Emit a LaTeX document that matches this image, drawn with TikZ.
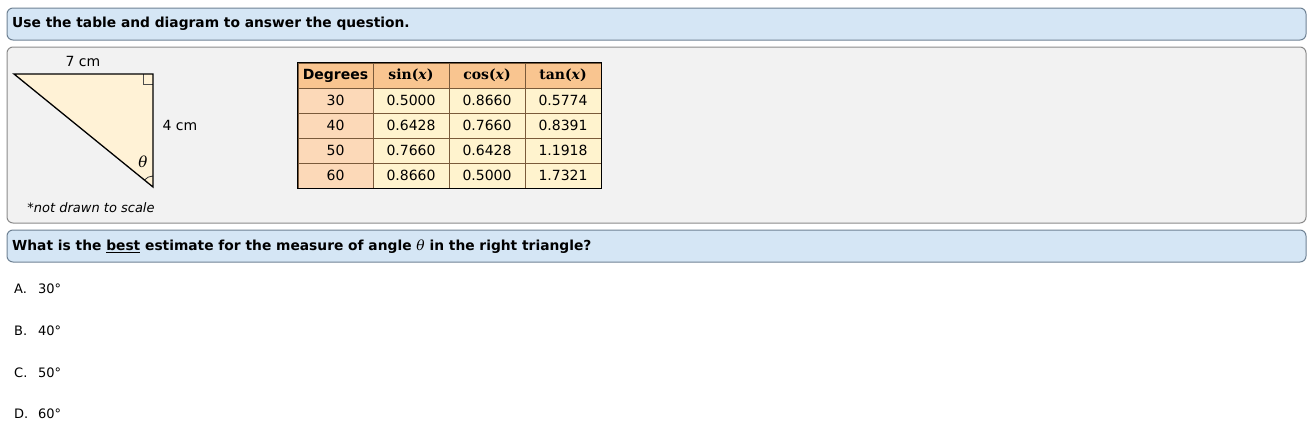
\documentclass[tikz,border=0pt]{standalone}
\usepackage{fontspec}
\setmainfont{DejaVu Sans}
\newfontfamily\trigfont{DejaVu Serif}

\definecolor{bannerblue}{HTML}{D5E6F5}
\definecolor{bannerline}{HTML}{6F8294}
\definecolor{panelgray}{HTML}{F2F2F2}
\definecolor{panelline}{HTML}{8A8A8A}
\definecolor{trifill}{HTML}{FFF2D6}
\definecolor{headorange}{HTML}{F9C590}
\definecolor{degpeach}{HTML}{FCD9B8}
\definecolor{cellyellow}{HTML}{FFF3CE}
\definecolor{tabline}{HTML}{7A5A3A}

\newcommand{\thetaglyph}{{\trigfont\itshape\mdseries θ}}

\tikzset{
	banner/.style={draw=bannerline,fill=bannerblue,rounded corners=6pt,line width=1pt},
	panel/.style={draw=panelline,fill=panelgray,rounded corners=6pt,line width=1pt},
	txt/.style={inner sep=0pt,font=\fontsize{14}{16}\selectfont},
	headtxt/.style={inner sep=0pt,font=\fontsize{13.8}{16}\selectfont\bfseries},
	cell/.style={draw=tabline,line width=0.8pt,minimum height=25pt,inner sep=0pt,font=\fontsize{14}{16}\selectfont},
	trigtxt/.style={font=\fontsize{14}{16}\selectfont\trigfont\bfseries}
}

\begin{document}
\begin{tikzpicture}[x=1pt,y=-1pt]
	\useasboundingbox (0,0) rectangle (1310,437);
	%BANNERS AND PANEL
	\draw[banner] (7,8) rectangle (1306,40);
	\draw[panel] (7,47) rectangle (1306,223);
	\draw[banner] (7,230) rectangle (1306,262);
	\node[headtxt,anchor=west] (intro) at (12,24) {Use the table and diagram to answer the question.};
	\node[headtxt,anchor=west] (question) at (12,246.5) {What is the \underline{best} estimate for the measure of angle \thetaglyph\ in the right triangle?};

	%TRIANGLE
	\coordinate (A) at (14,74);
	\coordinate (B) at (153,74);
	\coordinate (C) at (153,187);
	\fill[trifill] (A)--(B)--(C)--cycle;
	\draw[line width=0.8pt,black!70] ([xshift=-10pt]B)--++(0,10)--++(10,0);
	\draw[line width=0.8pt,black!80] (C) ++(270:11) arc[start angle=270,end angle=219,radius=11];
	\draw[line width=1.3pt,line join=miter] (A)--(B)--(C)--cycle;
	\node[txt] (top) at (83,61) {7 cm};
	\node[txt] (side) at (180,125.5) {4 cm};
	\node[txt,font=\fontsize{15}{16}\selectfont] (theta) at (143,162) {\thetaglyph};
	\node[txt,font=\fontsize{13}{15}\selectfont\itshape] (note) at (91,208) {*not drawn to scale};

	%TABLE
	\node[cell,minimum width=75pt,fill=headorange,font=\fontsize{14}{16}\selectfont\bfseries] (hd) at (335.5,75.5) {Degrees};
	\node[cell,minimum width=76pt,fill=headorange,trigtxt] (hs) at (411,75.5) {sin(\textit{x})};
	\node[cell,minimum width=76pt,fill=headorange,trigtxt] (hc) at (487,75.5) {cos(\textit{x})};
	\node[cell,minimum width=76pt,fill=headorange,trigtxt] (ht) at (563,75.5) {tan(\textit{x})};
	\foreach \d/\s/\c/\t [count=\i] in {30/0.5000/0.8660/0.5774,40/0.6428/0.7660/0.8391,50/0.7660/0.6428/1.1918,60/0.8660/0.5000/1.7321}{
		\node[cell,minimum width=75pt,fill=degpeach] (d\i) at (335.5,{75.5+25*\i}) {\d};
		\node[cell,minimum width=76pt,fill=cellyellow] (s\i) at (411,{75.5+25*\i}) {\s};
		\node[cell,minimum width=76pt,fill=cellyellow] (c\i) at (487,{75.5+25*\i}) {\c};
		\node[cell,minimum width=76pt,fill=cellyellow] (t\i) at (563,{75.5+25*\i}) {\t};
	}
	\draw[line width=1.6pt] (hd.north west) rectangle (t4.south east);

	%ANSWERS
	\foreach \l/\v [count=\i] in {A/30,B/40,C/50,D/60}{
		\node[inner sep=0pt,anchor=west,font=\fontsize{13}{15}\selectfont] (opt\l) at (14,{289+41.7*(\i-1)}) {\l.};
		\node[inner sep=0pt,anchor=west,font=\fontsize{13}{15}\selectfont] (val\l) at (38,{289+41.7*(\i-1)}) {\v°};
	}
\end{tikzpicture}
\end{document}
